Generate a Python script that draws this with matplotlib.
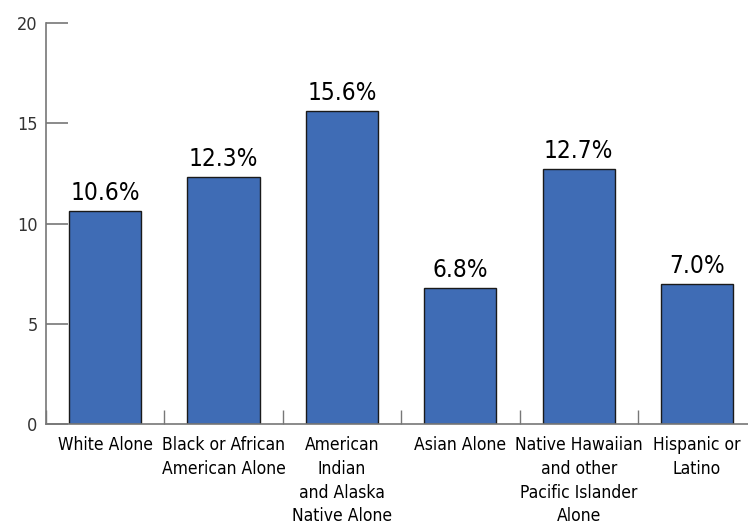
import numpy as np
import matplotlib.pyplot as plt
from matplotlib.ticker import FixedLocator

plt.rcParams['font.family'] = ['DejaVu Sans']
plt.rcParams['font.stretch'] = 'condensed'

categories = ['White Alone', 'Black or African\nAmerican Alone', 'American\nIndian\nand Alaska\nNative Alone',
              'Asian Alone', 'Native Hawaiian\nand other\nPacific Islander\nAlone', 'Hispanic or\nLatino']
values = [10.6, 12.3, 15.6, 6.8, 12.7, 7.0]
y_ticks = [0, 5, 10, 15, 20]

fig = plt.figure(figsize=(7.48, 5.29), dpi=100)
ax = fig.add_axes([0.0615, 0.1985, 0.9385, 0.758])

x = np.arange(len(categories))
ax.bar(x, values, width=0.61, color='#3F6CB5', edgecolor='#1a1a1a', linewidth=1.0, zorder=2)

for xi, v in zip(x, values):
    ax.text(xi, v + 0.3, f'{v:.1f}%', ha='center', va='bottom', fontsize=17.5, stretch='condensed')

ax.set_xlim(-0.5, 5.43)
ax.set_ylim(0, 20)
ax.set_yticks(y_ticks)
ax.set_xticks(x)
ax.set_xticklabels(categories, fontsize=12.5, linespacing=1.4, stretch='condensed')
ax.xaxis.set_minor_locator(FixedLocator(np.arange(-0.5, 6, 1)))
ax.tick_params(axis='x', which='major', length=0, pad=9)
ax.tick_params(axis='x', which='minor', direction='in', length=10, color='#777777', width=1)
ax.tick_params(axis='y', direction='in', length=16, color='#777777', width=1.2, labelsize=13, pad=6, labelcolor='#333333')

for s in ['top', 'right']:
    ax.spines[s].set_visible(False)
for s in ['left', 'bottom']:
    ax.spines[s].set_color('#777777')
    ax.spines[s].set_linewidth(1.2)

fig.savefig('out.png', dpi=100)
